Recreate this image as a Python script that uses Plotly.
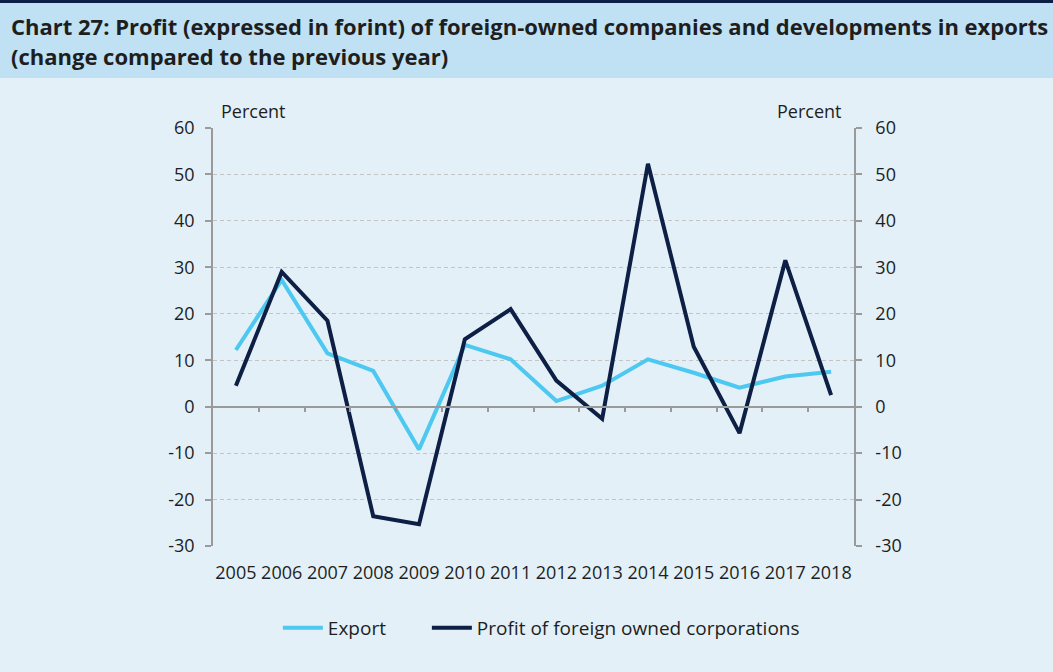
import plotly.graph_objects as go

years = ["2005", "2006", "2007", "2008", "2009", "2010", "2011", "2012", "2013", "2014", "2015", "2016", "2017", "2018"]
export = [12.2, 27.3, 11.5, 7.7, -9.2, 13.3, 10.2, 1.2, 4.5, 10.2, 7.3, 4.1, 6.5, 7.5]
profit = [4.5, 29.0, 18.5, -23.6, -25.3, 14.5, 21.0, 5.6, -2.6, 52.3, 12.9, -5.7, 31.5, 2.5]
y_ticks = [-30, -20, -10, 0, 10, 20, 30, 40, 50, 60]
y_ticktext = [str(v) for v in y_ticks]

W, H = 1053, 672
ML, MR, MT, MB = 213, 199, 128, 126
PW, PH = W - ML - MR, H - MT - MB

def px_x(p):
    return (p - ML) / PW

def px_y(p):
    return (H - MB - p) / PH

xi = list(range(len(years)))
FONT = "Open Sans"
GRID = "#c4c4c4"
AX = "#9a9a9a"
TXT = "#1e1e1e"

fig = go.Figure()
fig.add_trace(go.Scatter(x=xi, y=export, mode="lines", name="Export", legend="legend",
                         line=dict(color="#4cc8f1", width=4)))
fig.add_trace(go.Scatter(x=xi, y=profit, mode="lines", name="Profit of foreign owned corporations",
                         legend="legend2", line=dict(color="#0d1f45", width=4)))
# helper trace for the secondary axes (invisible)
fig.add_trace(go.Scatter(x=xi, y=export, xaxis="x2", yaxis="y2", mode="lines",
                         line=dict(width=0), opacity=0, showlegend=False, hoverinfo="skip"))

yr = [-30, 60]
zero_pos = (0 - yr[0]) / (yr[1] - yr[0])

leg_common = dict(orientation="h", xanchor="left", yanchor="middle",
                  font=dict(size=19, color=TXT), bgcolor="rgba(0,0,0,0)", itemwidth=40)

fig.update_layout(
    width=W, height=H,
    margin=dict(l=ML, r=MR, t=MT, b=MB, pad=0),
    paper_bgcolor="#e3f0f7",
    plot_bgcolor="#e3f0f7",
    font=dict(family=FONT, size=16, color=TXT),
    showlegend=True,
    legend=dict(x=px_x(283) - 0.008, y=px_y(628), **leg_common),
    legend2=dict(x=px_x(432) - 0.008, y=px_y(628), **leg_common),
    xaxis=dict(range=[-0.5, len(years) - 0.5], tickvals=xi, ticktext=years,
               showgrid=False, zeroline=False, showline=False, ticks="",
               ticklabelstandoff=14,
               tickfont=dict(size=18, color=TXT), fixedrange=True),
    xaxis2=dict(overlaying="x", matches="x", anchor="free", position=zero_pos,
                range=[-0.5, len(years) - 0.5],
                tickvals=[i + 0.5 for i in xi[:-1]], showticklabels=False,
                ticks="outside", ticklen=5, tickcolor=AX, tickwidth=1.5,
                showline=True, linecolor=AX, linewidth=1.5, showgrid=False, zeroline=False),
    yaxis=dict(range=yr, tickvals=y_ticks, ticktext=y_ticktext, showgrid=True, gridcolor=GRID,
               griddash="4px,3px", gridwidth=1.3, zeroline=False, showline=True, linecolor=AX,
               linewidth=1.5, ticks="outside", ticklen=6, tickcolor=AX, tickwidth=1.5,
               ticklabelstandoff=7,
               tickfont=dict(size=18, color=TXT), fixedrange=True),
    yaxis2=dict(range=yr, tickvals=y_ticks, ticktext=y_ticktext, overlaying="y", side="right",
                anchor="x", showgrid=False, zeroline=False, showline=True, linecolor=AX,
                linewidth=1.5, ticks="outside", ticklen=6, tickcolor=AX, tickwidth=1.5,
                ticklabelstandoff=10,
                tickfont=dict(size=18, color=TXT)),
    shapes=[
        dict(type="rect", xref="paper", yref="paper", x0=px_x(0), x1=px_x(W), y0=px_y(78), y1=px_y(0),
             fillcolor="#bfe1f3", line=dict(width=0), layer="below"),
        dict(type="rect", xref="paper", yref="paper", x0=px_x(0), x1=px_x(W), y0=px_y(3), y1=px_y(0),
             fillcolor="#0d1f45", line=dict(width=0), layer="below"),
    ],
    annotations=[
        dict(text="<b>Chart 27: Profit (expressed in forint) of foreign-owned companies and developments in exports</b>",
             xref="paper", yref="paper", x=px_x(9), y=px_y(26), xanchor="left", yanchor="middle",
             showarrow=False, font=dict(size=22, color=TXT, family=FONT)),
        dict(text="<b>(change compared to the previous year)</b>",
             xref="paper", yref="paper", x=px_x(9), y=px_y(56), xanchor="left", yanchor="middle",
             showarrow=False, font=dict(size=22, color=TXT, family=FONT)),
        dict(text="Percent", xref="paper", yref="paper", x=px_x(253), y=px_y(111),
             xanchor="center", yanchor="middle", showarrow=False, font=dict(size=18)),
        dict(text="Percent", xref="paper", yref="paper", x=px_x(809), y=px_y(111),
             xanchor="center", yanchor="middle", showarrow=False, font=dict(size=18)),
    ],
)

fig.write_html("out.html", config={"displayModeBar": False},
               post_script="document.body.style.margin='0';document.body.style.padding='0';")
